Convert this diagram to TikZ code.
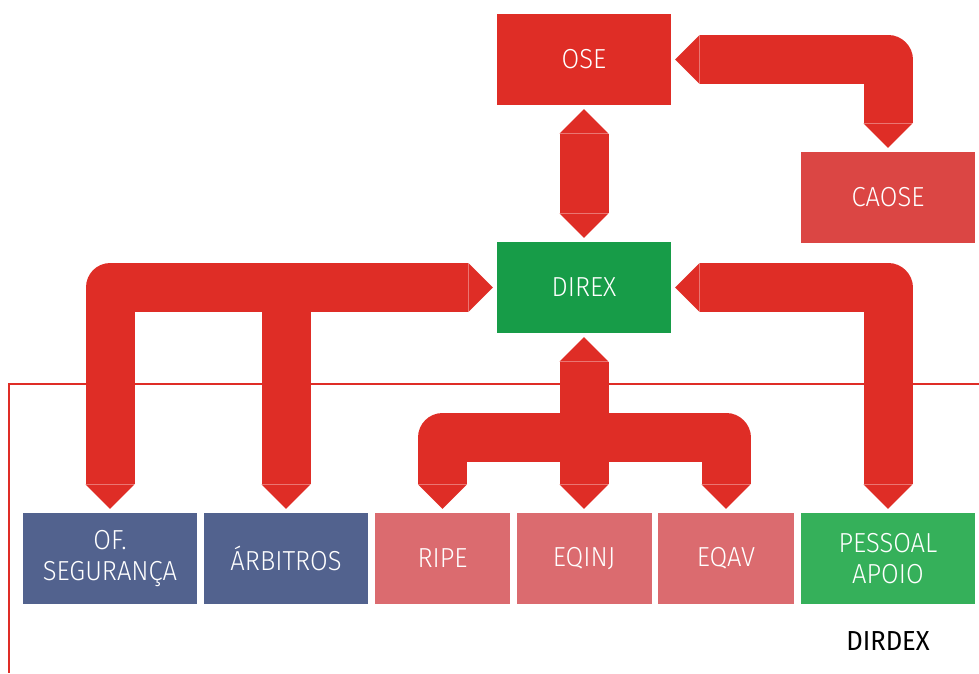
\documentclass[tikz,border=0pt]{standalone}
\usepackage{fontspec}
\setmainfont{Fira Sans Light}[FakeStretch=0.93]
\newfontfamily\labelfont{Fira Sans}[FakeStretch=0.93]
\usetikzlibrary{arrows.meta}

\definecolor{arrowred}{RGB}{223,45,38}
\definecolor{caosered}{RGB}{219,70,68}
\definecolor{direxgreen}{RGB}{23,156,72}
\definecolor{apoiogreen}{RGB}{53,176,90}
\definecolor{blueb}{RGB}{82,98,142}
\definecolor{pinkb}{RGB}{219,107,111}

\begin{document}
\begin{tikzpicture}[x=1pt,y=-1pt,
        box/.style={minimum width=#1,minimum height=91pt,inner sep=0pt,align=center,text=white,font=\fontsize{27.5}{31}\selectfont},
        box/.default=174pt,
        fat/.style={draw=arrowred,line width=49pt,line join=round,shorten <=4pt,shorten >=4pt},
        >={Triangle[width=49pt,length=24.5pt,line width=0pt]}]
        \useasboundingbox (0,0) rectangle (979,673);

        \draw[arrowred,line width=2pt] (979,384) -| (9,673);

        \node[box,fill=arrowred] (ose) at (584,59.5) {OSE};
        \node[box,fill=caosered] (caose) at (888,197.5) {CAOSE};
        \node[box,fill=direxgreen] (direx) at (584,287.5) {DIREX};

        \node[box=174pt,fill=blueb] (ofseg) at (110,558.5) {OF.\\SEGURANÇA};
        \node[box=164pt,fill=blueb] (arbitros) at (286,558.5) {ÁRBITROS};
        \node[box=135pt,fill=pinkb] (ripe) at (442.5,558.5) {RIPE};
        \node[box=135pt,fill=pinkb] (eqinj) at (584,558.5) {EQINJ};
        \node[box=136pt,fill=pinkb] (eqav) at (726,558.5) {EQAV};
        \node[box,fill=apoiogreen] (pessoal) at (888,558.5) {PESSOAL\\APOIO};
        \node[font=\labelfont\fontsize{27.5}{31}\selectfont] (dirdex) at (888,641.5) {DIRDEX};

        \coordinate (leftbar) at (286,287.5);
        \coordinate (midbar) at (584,437.5);

        \draw[fat,<->] (ose.south) -- (direx.north);
        \draw[fat,<->] (caose.north) |- (ose.east);
        \draw[fat,<->] (ofseg.north) |- (direx.west);
        \draw[fat,->] (leftbar) -- (arbitros.north);
        \draw[fat,<->] (pessoal.north) |- (direx.east);
        \draw[fat,<->] (eqinj.north) -- (direx.south);
        \draw[fat,->] (midbar) -| (ripe.north);
        \draw[fat,->] (midbar) -| (eqav.north);

    \end{tikzpicture}
\end{document}
